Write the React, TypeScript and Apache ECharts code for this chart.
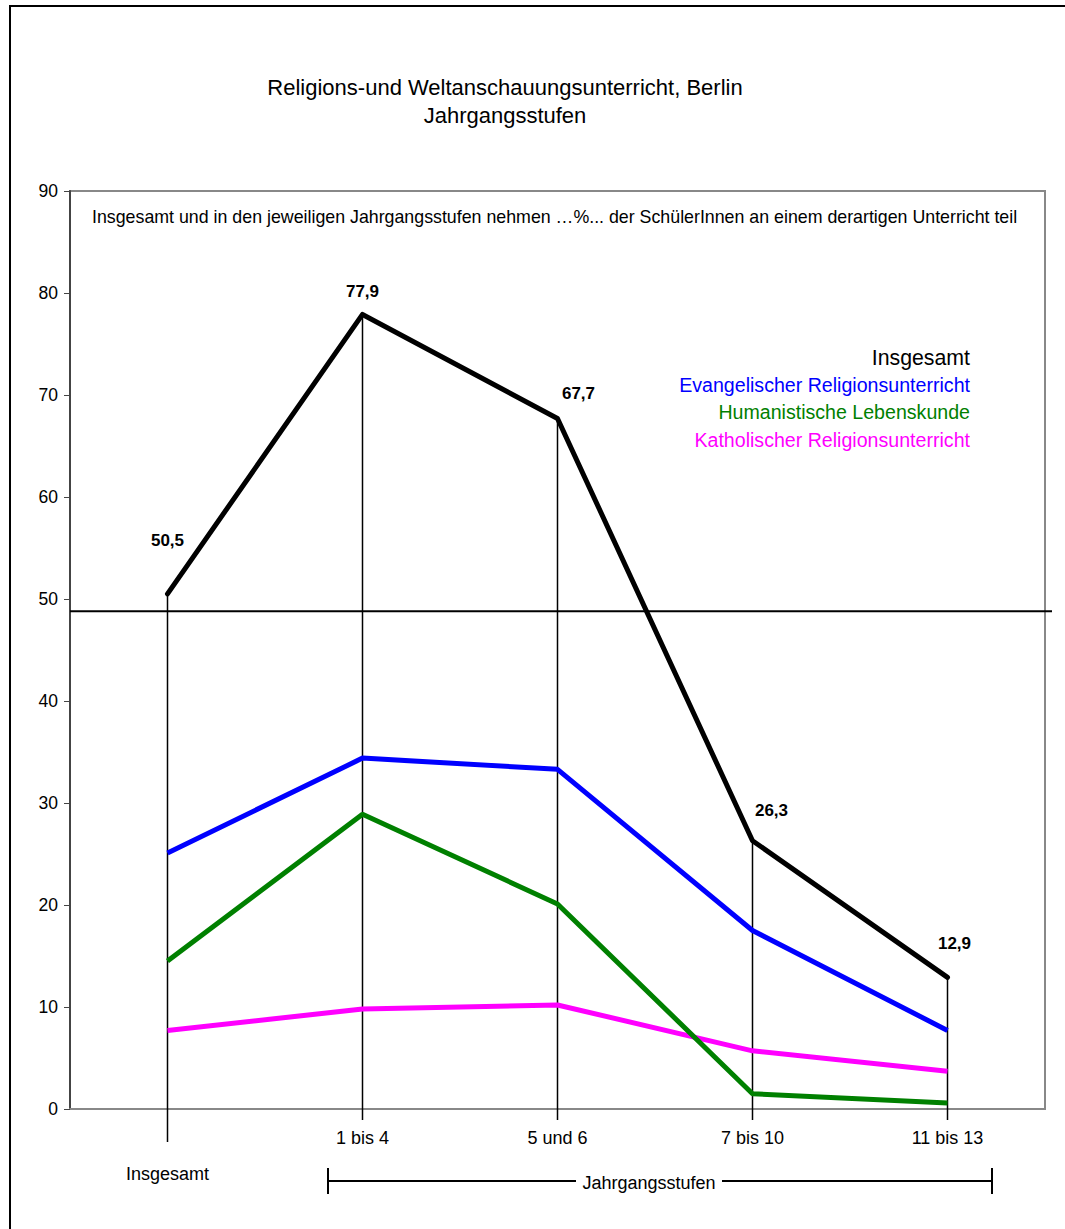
import React, { useEffect, useRef } from "react";
import * as echarts from "echarts";

const categories = ["Insgesamt", "1 bis 4", "5 und 6", "7 bis 10", "11 bis 13"];
const insgesamt = [50.5, 77.9, 67.7, 26.3, 12.9];
const evangelisch = [25.1, 34.4, 33.3, 17.5, 7.7];
const humanistisch = [14.5, 28.9, 20.1, 1.5, 0.6];
const katholisch = [7.7, 9.8, 10.2, 5.7, 3.7];
const referenceLine = [48.8];
const labelOffsets = [[0, -39], [0, -9], [21, -11], [19, -16], [7, -20]];
const dropExtension = [33, 11, 11, 11, 11];

const FONT = "'Liberation Sans', Arial, sans-serif";

export default function App() {
  const ref = useRef<HTMLDivElement>(null);
  useEffect(() => {
    const chart = echarts.init(ref.current!, null, { renderer: "svg" });
    const option: any = {
      animation: false,
      backgroundColor: "#fff",
      textStyle: { fontFamily: FONT },
      grid: {
        left: 70,
        right: 20,
        top: 191,
        bottom: 120,
        show: true,
        borderColor: "#888",
        borderWidth: 2,
      },
      xAxis: {
        type: "category",
        data: categories,
        boundaryGap: true,
        axisLine: { show: true, lineStyle: { color: "#888", width: 2 } },
        axisTick: { show: false },
        axisLabel: {
          margin: 20,
          fontSize: 18,
          lineHeight: 18,
          color: "#000",
          fontFamily: FONT,
          interval: 0,
          formatter: (v: string, i: number) => (i === 0 ? "\n\n" + v : v),
        },
      },
      yAxis: {
        type: "value",
        min: 0,
        max: 90,
        interval: 10,
        axisLine: { show: true, lineStyle: { color: "#444", width: 2 } },
        axisTick: { show: true, inside: false, length: 6, lineStyle: { color: "#444" } },
        splitLine: { show: false },
        axisLabel: { fontSize: 17.5, color: "#000", margin: 12, fontFamily: FONT },
      },
      graphic: [
        {
          type: "rect",
          shape: { x: 10, y: 6, width: 1100, height: 1300 },
          style: { fill: "none", stroke: "#000", lineWidth: 2 },
          silent: true,
        },
        {
          type: "text",
          x: 505,
          y: 87,
          style: {
            text: "Religions-und Weltanschauungsunterricht, Berlin",
            font: `22px ${FONT}`,
            fill: "#000",
            align: "center",
            verticalAlign: "middle",
          },
        },
        {
          type: "text",
          x: 505,
          y: 115,
          style: {
            text: "Jahrgangsstufen",
            font: `22px ${FONT}`,
            fill: "#000",
            align: "center",
            verticalAlign: "middle",
          },
        },
        {
          type: "text",
          x: 92,
          y: 217,
          style: {
            text: "Insgesamt und in den jeweiligen Jahrgangsstufen nehmen …%... der SchülerInnen an einem derartigen Unterricht teil",
            font: `17.8px ${FONT}`,
            fill: "#000",
            align: "left",
            verticalAlign: "middle",
          },
        },
        {
          type: "text",
          x: 970,
          y: 358,
          style: { text: "Insgesamt", font: `21.3px ${FONT}`, fill: "#000", align: "right", verticalAlign: "middle" },
        },
        {
          type: "text",
          x: 970,
          y: 385,
          style: { text: "Evangelischer Religionsunterricht", font: `19.6px ${FONT}`, fill: "#0000ff", align: "right", verticalAlign: "middle" },
        },
        {
          type: "text",
          x: 970,
          y: 412,
          style: { text: "Humanistische Lebenskunde", font: `19.6px ${FONT}`, fill: "#008000", align: "right", verticalAlign: "middle" },
        },
        {
          type: "text",
          x: 970,
          y: 440,
          style: { text: "Katholischer Religionsunterricht", font: `19.6px ${FONT}`, fill: "#ff00ff", align: "right", verticalAlign: "middle" },
        },
        {
          type: "line",
          shape: { x1: 328, y1: 1181, x2: 576, y2: 1181 },
          style: { stroke: "#000", lineWidth: 2 },
        },
        {
          type: "line",
          shape: { x1: 722, y1: 1181, x2: 992, y2: 1181 },
          style: { stroke: "#000", lineWidth: 2 },
        },
        {
          type: "line",
          shape: { x1: 328, y1: 1168, x2: 328, y2: 1194 },
          style: { stroke: "#000", lineWidth: 2 },
        },
        {
          type: "line",
          shape: { x1: 992, y1: 1168, x2: 992, y2: 1194 },
          style: { stroke: "#000", lineWidth: 2 },
        },
        {
          type: "text",
          x: 649,
          y: 1183,
          style: { text: "Jahrgangsstufen", font: `18px ${FONT}`, fill: "#000", align: "center", verticalAlign: "middle" },
        },
      ],
      series: [
        {
          type: "custom",
          z: 1,
          data: insgesamt.map((v, i) => [i, v]),
          renderItem: (params: any, api: any) => {
            const i = api.value(0);
            const top = api.coord([i, api.value(1)]);
            const bottom = api.coord([i, 0]);
            return {
              type: "line",
              shape: { x1: top[0], y1: top[1], x2: bottom[0], y2: bottom[1] + dropExtension[params.dataIndex] },
              style: { stroke: "#000", lineWidth: 1.5 },
            };
          },
        },
        {
          type: "custom",
          z: 1,
          data: referenceLine.map((v) => [0, v]),
          renderItem: (params: any, api: any) => {
            const cs = params.coordSys;
            const p = api.coord([0, api.value(1)]);
            return {
              type: "line",
              shape: { x1: cs.x, y1: p[1], x2: cs.x + cs.width + 7, y2: p[1] },
              style: { stroke: "#000", lineWidth: 2 },
            };
          },
        },
        {
          name: "Katholischer Religionsunterricht",
          type: "line",
          z: 3,
          data: katholisch,
          symbol: "none",
          lineStyle: { color: "#ff00ff", width: 5 },
          itemStyle: { color: "#ff00ff" },
        },
        {
          name: "Humanistische Lebenskunde",
          type: "line",
          z: 4,
          data: humanistisch,
          symbol: "none",
          lineStyle: { color: "#008000", width: 5 },
          itemStyle: { color: "#008000" },
        },
        {
          name: "Evangelischer Religionsunterricht",
          type: "line",
          z: 5,
          data: evangelisch,
          symbol: "none",
          lineStyle: { color: "#0000ff", width: 5 },
          itemStyle: { color: "#0000ff" },
        },
        {
          name: "Insgesamt",
          type: "line",
          z: 6,
          data: insgesamt.map((v, i) => ({ value: v, label: { offset: labelOffsets[i] } })),
          symbol: "circle",
          symbolSize: 1,
          showSymbol: true,
          lineStyle: { color: "#000", width: 5, cap: "round", join: "round" },
          itemStyle: { color: "#000" },
          label: {
            show: true,
            position: "top",
            fontSize: 17,
            fontWeight: "bold",
            color: "#000",
            fontFamily: FONT,
            formatter: (p: any) => String(p.value).replace(".", ","),
          },
        },
      ],
    };
    chart.setOption(option);
    return () => chart.dispose();
  }, []);
  return (
    <div
      ref={ref}
      style={{ position: "absolute", left: 0, top: 0, width: 1065, height: 1229 }}
    />
  );
}
